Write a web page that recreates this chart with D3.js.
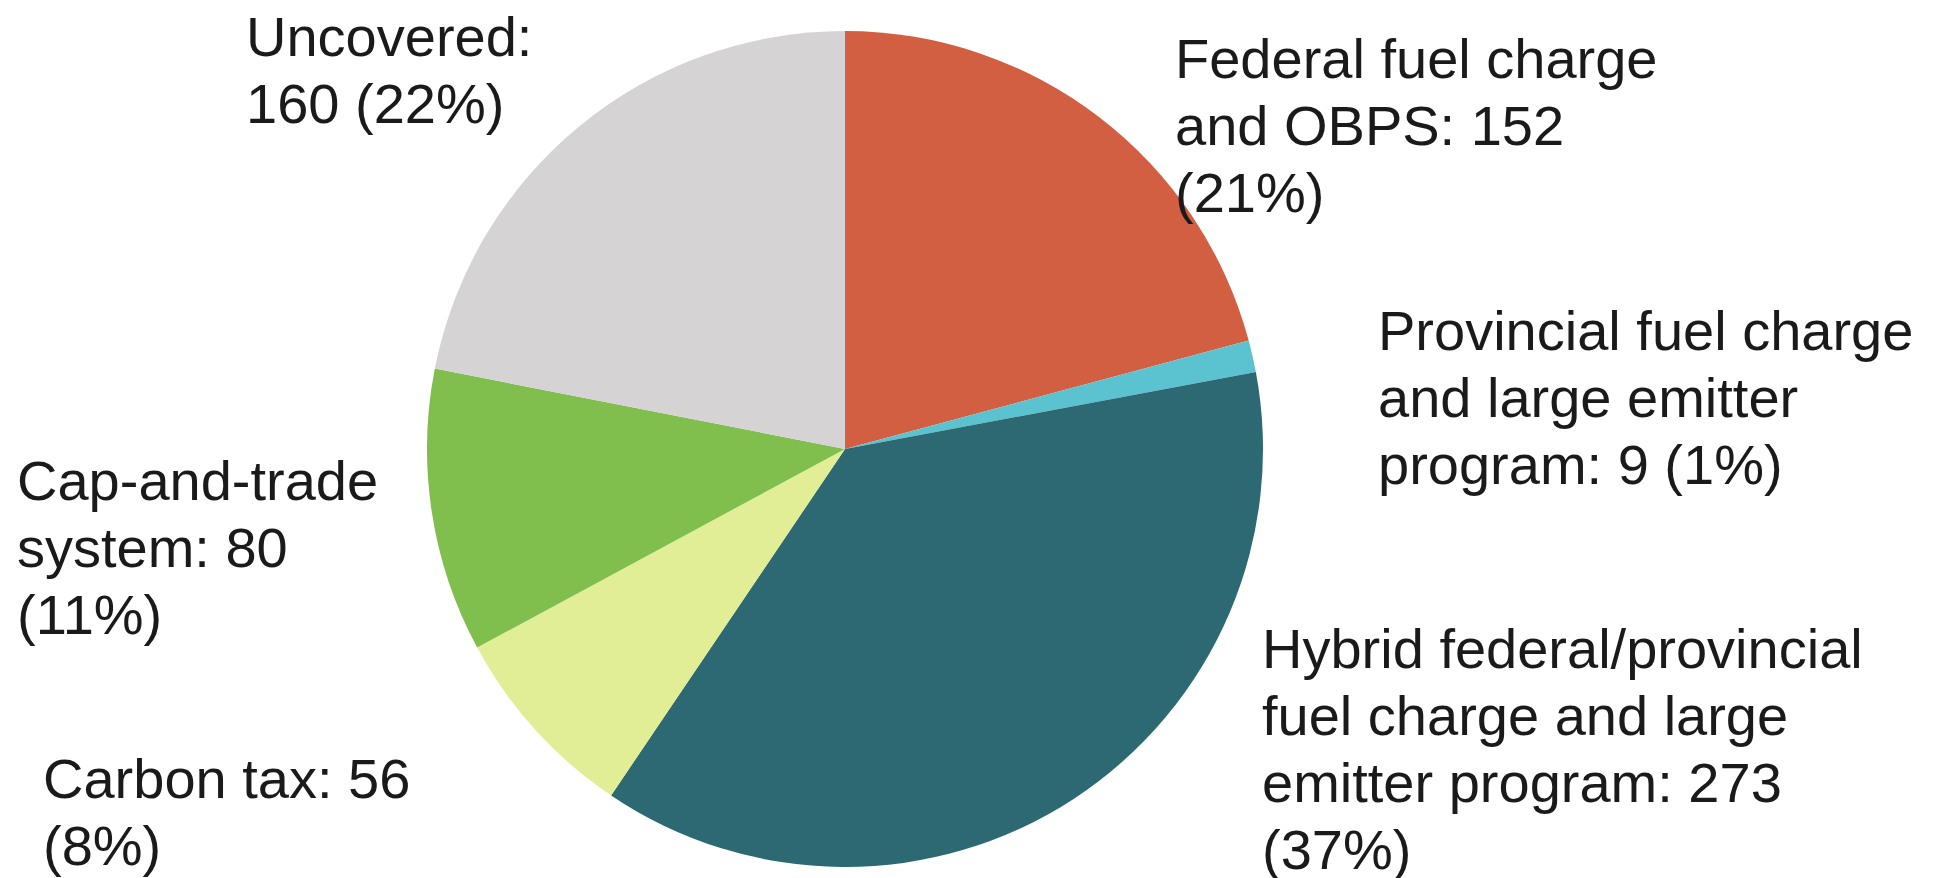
<!DOCTYPE html>
<html>
<head>
<meta charset="utf-8">
<script src="https://cdn.jsdelivr.net/npm/d3@7"></script>
<style>
  html, body { margin: 0; padding: 0; background: #ffffff; }
  svg { display: block; }
  text { font-family: "Liberation Sans", Arial, Helvetica, sans-serif; fill: #1a1a1a; }
</style>
</head>
<body>
<svg id="chart" width="1946" height="878"></svg>
<script>
// Emissions by carbon-pricing coverage (Mt), clockwise from 12 o'clock
const categories = [
  "Federal fuel charge and OBPS",
  "Provincial fuel charge and large emitter program",
  "Hybrid federal/provincial fuel charge and large emitter program",
  "Carbon tax",
  "Cap-and-trade system",
  "Uncovered"
];
const values = [152, 9, 273, 56, 80, 160];
const shares = ["21%", "1%", "37%", "8%", "11%", "22%"];
const colors = ["#d35f42", "#5bc3cf", "#2d6973", "#e2ee96", "#80be4d", "#d5d3d4"];

// Label lines, as wrapped in the chart
const labelLines = [
  ["Federal fuel charge", "and OBPS: 152", "(21%)"],
  ["Provincial fuel charge", "and large emitter", "program: 9 (1%)"],
  ["Hybrid federal/provincial", "fuel charge and large", "emitter program: 273", "(37%)"],
  ["Carbon tax: 56", "(8%)"],
  ["Cap-and-trade", "system: 80", "(11%)"],
  ["Uncovered:", "160 (22%)"]
];

const svg = d3.select("#chart");
const cx = 845, cy = 449, radius = 418;

const pie = d3.pie().sort(null).value(d => d);
const arc = d3.arc().innerRadius(0).outerRadius(radius);
const color = d3.scaleOrdinal().domain(categories).range(colors);

const g = svg.append("g").attr("transform", `translate(${cx},${cy})`);
g.selectAll("path")
  .data(pie(values))
  .join("path")
  .attr("d", arc)
  .attr("fill", (d, i) => color(categories[i]));

// Label anchor points (left edge x, first baseline y)
const labelPos = [
  [1175, 78],
  [1378, 350],
  [1262, 668],
  [43, 798],
  [17, 500],
  [246, 56]
];
const lineH = 67;

const labels = svg.append("g").attr("font-size", 56);
labelLines.forEach((lines, i) => {
  const t = labels.append("text")
    .attr("x", labelPos[i][0])
    .attr("y", labelPos[i][1]);
  lines.forEach((ln, j) => {
    t.append("tspan")
      .attr("x", labelPos[i][0])
      .attr("y", labelPos[i][1] + j * lineH)
      .text(ln);
  });
});
</script>
</body>
</html>
